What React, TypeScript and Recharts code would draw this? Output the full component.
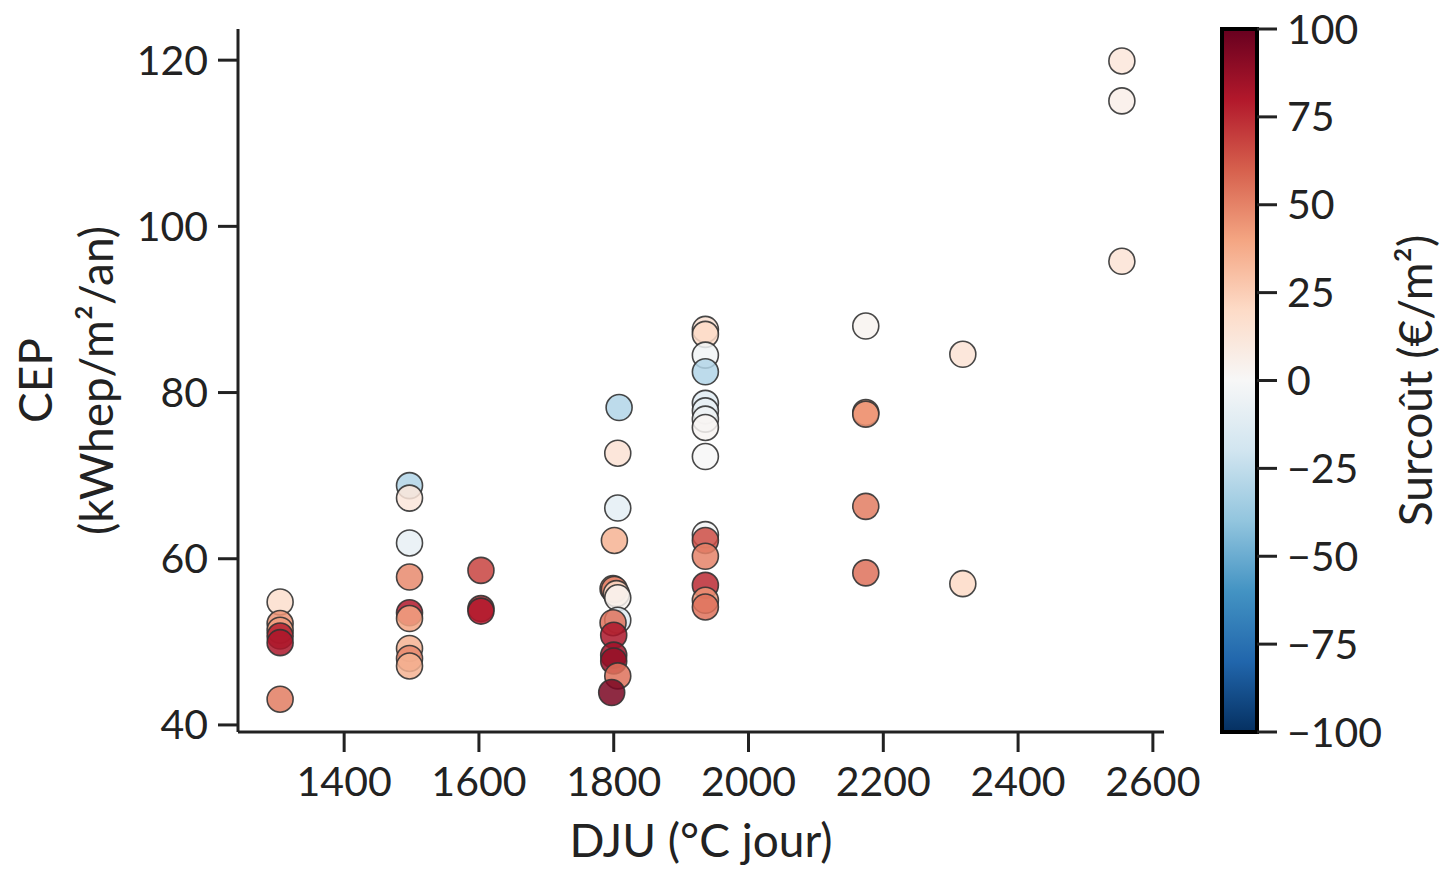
import React from "react";
import {
  ScatterChart,
  Scatter,
  XAxis,
  YAxis,
  ReferenceArea,
  Label,
} from "recharts";

// DJU (°C jour), CEP (kWhep/m²/an), surcoût (€/m²) per building
const djuValues = [
  1305, 1305, 1305, 1305, 1305, 1305,
  1497, 1497, 1497, 1497, 1497, 1497, 1497, 1497, 1497,
  1603, 1603, 1603,
  1808, 1806, 1806, 1801, 1799, 1801, 1804, 1806, 1806, 1799, 1800, 1800, 1800, 1806, 1797,
  1936, 1936, 1936, 1936, 1936, 1936, 1936, 1936, 1936, 1936, 1936, 1936, 1936, 1936, 1936,
  2174, 2174, 2174, 2174, 2174,
  2318, 2318,
  2554, 2554, 2554,
];
const cepValues = [
  54.8, 52.2, 51.4, 50.7, 49.9, 43.1,
  68.8, 67.3, 61.9, 57.8, 53.5, 52.8, 49.2, 48.0, 47.1,
  58.6, 54.0, 53.7,
  78.2, 72.7, 66.1, 62.2, 56.4, 56.3, 55.8, 55.3, 52.6, 52.3, 50.8, 48.4, 47.7, 45.9, 43.9,
  87.6, 87.0, 84.5, 82.5, 78.7, 77.8, 76.8, 75.8, 72.3, 62.9, 62.2, 60.3, 56.8, 55.0, 54.2,
  88.0, 77.6, 77.4, 66.3, 58.3,
  84.6, 57.0,
  119.9, 115.1, 95.8,
];
const surcoutValues = [
  18, 45, 42, 78, 82, 52,
  -30, 12, -8, 48, 80, 40, 35, 48, 35,
  68, 75, 80,
  -30, 15, -10, 35, 45, 50, 20, 3, -12, 55, 82, 85, 88, 55, 95,
  15, 20, -3, -30, -12, -8, -5, 2, 0, -2, 65, 50, 75, 45, 55,
  3, 40, 45, 52, 55,
  14, 20,
  12, 6, 14,
];

const xTicks = [1400, 1600, 1800, 2000, 2200, 2400, 2600];
const yTicks = [40, 60, 80, 100, 120];
const cbarTicks = [-100, -75, -50, -25, 0, 25, 50, 75, 100];

// RdBu_r, from -100 to 100
const RDBU_R = [
  "#053061", "#2166ac", "#4393c3", "#92c5de", "#d1e5f0", "#f7f7f7",
  "#fddbc7", "#f4a582", "#d6604d", "#b2182b", "#67001f",
];

const hexToRgb = (h: string) => [
  parseInt(h.slice(1, 3), 16),
  parseInt(h.slice(3, 5), 16),
  parseInt(h.slice(5, 7), 16),
];

function costColor(v: number) {
  const t = Math.max(0, Math.min(1, (v + 100) / 200)) * (RDBU_R.length - 1);
  const i = Math.min(Math.floor(t), RDBU_R.length - 2);
  const f = t - i;
  const a = hexToRgb(RDBU_R[i]);
  const b = hexToRgb(RDBU_R[i + 1]);
  const c = a.map((x, k) => Math.round(x + (b[k] - x) * f));
  return `rgb(${c[0]},${c[1]},${c[2]})`;
}

const points = djuValues.map((dju, i) => ({
  dju,
  cep: cepValues[i],
  cost: surcoutValues[i],
}));

// invisible anchors so the colorbar axis gets its scale
const cbarAnchors = cbarTicks.map((v) => ({ x: 0.5, y: v }));

const FONT = "Lato, 'DejaVu Sans', sans-serif";
const INK = "#222";

const renderDot = (props: any) => (
  <circle
    cx={props.cx}
    cy={props.cy}
    r={13}
    fill={costColor(props.payload.cost)}
    fillOpacity={0.85}
    stroke="#333"
    strokeOpacity={0.9}
    strokeWidth={1.6}
  />
);

const noDot = () => <g />;

const yLabel = (props: any) => {
  const vb = props.viewBox;
  const cy = vb.y + vb.height / 2;
  const x = 52;
  return (
    <text
      x={x}
      y={cy}
      textAnchor="middle"
      transform={`rotate(-90, ${x}, ${cy})`}
      fontSize={46}
      fill={INK}
      fontFamily={FONT}
    >
      <tspan x={x} dy={0}>CEP</tspan>
      <tspan x={x} dy={61}>(kWhep/m²/an)</tspan>
    </text>
  );
};

const cbarLabel = (props: any) => {
  const vb = props.viewBox;
  const cy = vb.y + vb.height / 2;
  const x = 215;
  return (
    <text
      x={x}
      y={cy}
      dy="0.36em"
      textAnchor="middle"
      transform={`rotate(-90, ${x}, ${cy})`}
      fontSize={46}
      fill={INK}
      fontFamily={FONT}
    >
      Surcoût (€/m²)
    </text>
  );
};

const fmtMinus = (v: number) => (v < 0 ? `\u2212${Math.abs(v)}` : `${v}`);

export default function App() {
  const tickStyle = { fontSize: 41, fill: INK, fontFamily: FONT };
  const axisLine = { stroke: INK, strokeWidth: 3 };
  return (
    <div style={{ position: "absolute", left: 0, top: 0, width: 1446, height: 870, background: "#fff" }}>
      <div style={{ position: "absolute", left: 0, top: 0 }}>
        <ScatterChart
          width={1446}
          height={870}
          margin={{ top: 29, right: 282, bottom: 0, left: 118 }}
        >
          <XAxis
            type="number"
            dataKey="dju"
            domain={[1242.5, 2616.5]}
            ticks={xTicks}
            allowDataOverflow
            height={138}
            tickSize={20}
            tickMargin={15}
            tick={tickStyle}
            axisLine={axisLine}
            tickLine={axisLine}
          >
            <Label
              value="DJU (°C jour)"
              position="insideBottom"
              offset={13}
              fontSize={46}
              fill={INK}
              fontFamily={FONT}
            />
          </XAxis>
          <YAxis
            type="number"
            dataKey="cep"
            domain={[39.15, 123.75]}
            ticks={yTicks}
            allowDataOverflow
            width={120}
            tickSize={20}
            tickMargin={10}
            tick={tickStyle}
            axisLine={axisLine}
            tickLine={axisLine}
          >
            <Label content={yLabel} />
          </YAxis>
          <Scatter data={points} shape={renderDot} isAnimationActive={false} />
        </ScatterChart>
      </div>
      <div style={{ position: "absolute", left: 1200, top: 0 }}>
        <ScatterChart
          width={246}
          height={870}
          margin={{ top: 29, right: 0, bottom: 138, left: 22 }}
        >
          <defs>
            <linearGradient id="rdbu" x1="0" y1="1" x2="0" y2="0">
              {RDBU_R.map((c, i) => (
                <stop key={c} offset={`${(i / (RDBU_R.length - 1)) * 100}%`} stopColor={c} />
              ))}
            </linearGradient>
          </defs>
          <XAxis type="number" dataKey="x" domain={[0, 1]} hide height={0} />
          <YAxis
            type="number"
            dataKey="y"
            orientation="right"
            domain={[-100, 100]}
            ticks={cbarTicks}
            width={189}
            tickSize={20}
            tickMargin={10}
            tickFormatter={fmtMinus}
            tick={tickStyle}
            axisLine={{ stroke: "#000", strokeWidth: 3 }}
            tickLine={axisLine}
          >
            <Label content={cbarLabel} />
          </YAxis>
          <ReferenceArea
            x1={0}
            x2={1}
            y1={-100}
            y2={100}
            fill="url(#rdbu)"
            fillOpacity={1}
            stroke="#000"
            strokeWidth={4}
            ifOverflow="visible"
          />
          <Scatter data={cbarAnchors} shape={noDot} isAnimationActive={false} />
        </ScatterChart>
      </div>
    </div>
  );
}
